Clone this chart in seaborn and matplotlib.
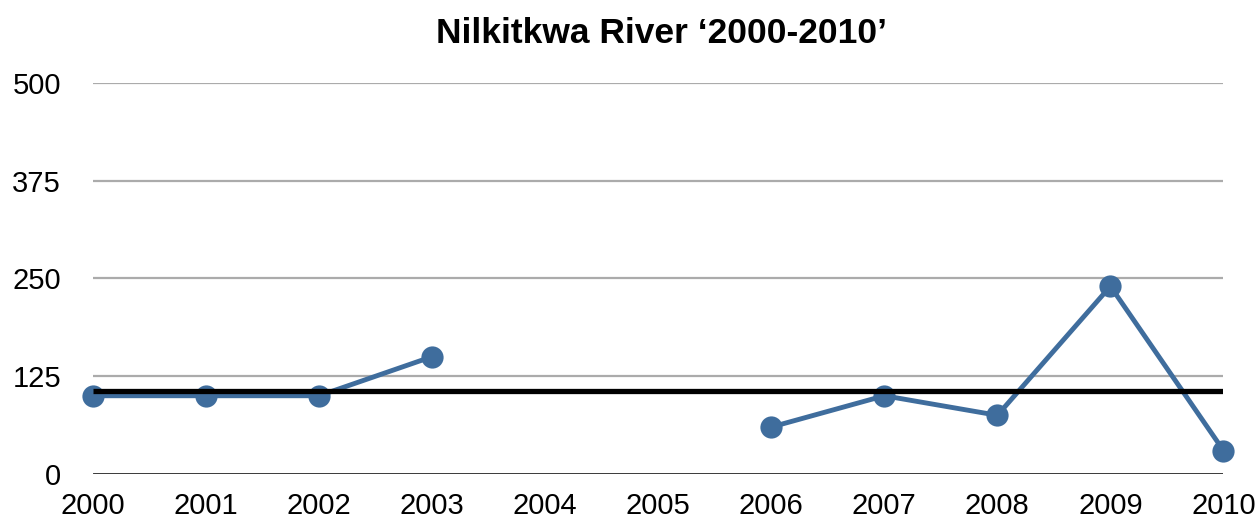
import numpy as np
import pandas as pd
import matplotlib
matplotlib.use("Agg")
import matplotlib.pyplot as plt
import seaborn as sns

# Annual counts; 2004 and 2005 have no record
years = [2000, 2001, 2002, 2003, 2004, 2005, 2006, 2007, 2008, 2009, 2010]
counts = [100, 100, 100, 150, np.nan, np.nan, 60, 100, 75, 240, 30]
y_ticks = [0, 125, 250, 375, 500]
title = "Nilkitkwa River \u20182000-2010\u2019"

df = pd.DataFrame({"year": years, "count": counts})
# split into runs so the missing years leave a gap in the line
df["run"] = df["count"].isna().cumsum()
df = df.dropna()
mean_count = df["count"].mean()

sns.set_theme(style="white")
plt.rcParams["font.family"] = ["Liberation Sans", "DejaVu Sans"]

fig = plt.figure(figsize=(12.6, 5.18), dpi=100)
ax = fig.add_axes([0.0738, 0.085, 0.8972, 0.755])

for v in y_ticks[1:]:
    ax.axhline(v, color="#ababab", lw=1.6, zorder=0)
ax.axhline(0, color="black", lw=1.8, zorder=1)

sns.lineplot(data=df, x="year", y="count", units="run", estimator=None,
             color="#3f6d9d", lw=3.5, marker="o", markersize=16,
             markeredgewidth=0, ax=ax, clip_on=False, zorder=3)

ax.plot([years[0], years[-1]], [mean_count, mean_count], color="black",
        lw=3.8, zorder=4, solid_capstyle="butt")

ax.set_xlim(years[0], years[-1])
ax.set_ylim(0, 500)
ax.set_xticks(years)
ax.set_xticklabels([str(y) for y in years])
ax.set_yticks(y_ticks)
ax.set_yticklabels([str(v) for v in y_ticks])
ax.tick_params(axis="y", length=0, pad=23, labelsize=21, labelcolor="black")
ax.tick_params(axis="x", length=0, pad=13, labelsize=21, labelcolor="black")
ax.set_xlabel("")
ax.set_ylabel("")
for s in ax.spines.values():
    s.set_visible(False)

fig.text(0.525, 0.935, title, ha="center", va="center", fontsize=25.5,
         fontweight="bold", color="black")

fig.savefig("out.png", dpi=100)
